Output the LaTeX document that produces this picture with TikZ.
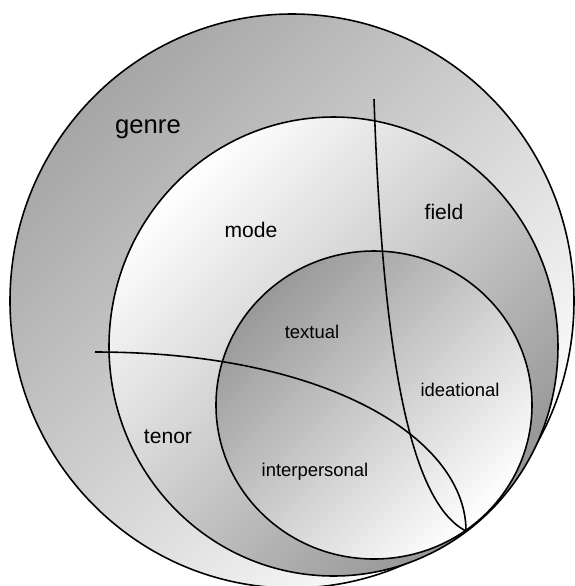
\documentclass[tikz,border=0pt]{standalone}
\usepackage{fontspec}
\setmainfont{Liberation Sans}
\usetikzlibrary{positioning}

\begin{document}
\begin{tikzpicture}[x=0.02cm, y=0.02cm, line width=0.9pt,
    darkring/.style={draw=black, top color=black!#1, bottom color=white, shading angle=45},
    lightring/.style={draw=black, top color=white, bottom color=black!42, shading angle=45},
    word/.style={anchor=base, inner sep=0pt}]
    \useasboundingbox (0,0) rectangle (575,-586);

    % Outer circle for genre
    \draw[darkring=35] (292,-301) ellipse [x radius=282, y radius=287];

    % Middle circle for the register variables
    \draw[lightring] (333.5,-346.5) ellipse [x radius=224.5, y radius=229.5];

    % Inner circle for the metafunctions
    \draw[darkring=40] (374,-405) ellipse [x radius=158, y radius=154];

    % Point where all circles touch
    \coordinate (touch) at (466,-531);
    \coordinate (fieldtop) at (374,-99);
    \coordinate (tenorleft) at (95,-352);

    % Curve between mode and field
    \draw (fieldtop) .. controls (382,-330) and (405,-500) .. (touch);

    % Curve between mode and tenor
    \draw (tenorleft) .. controls (330,-352) and (466,-440) .. (touch);

    % Labels
    \node[word, font=\fontsize{14.6}{17}\selectfont] (genre) at (148,-133) {genre};
    \node[word, font=\fontsize{12}{14}\selectfont] (mode) at (251,-237) {mode};
    \node[word, font=\fontsize{12}{14}\selectfont] (field) at (444,-219) {field};
    \node[word, font=\fontsize{12}{14}\selectfont] (tenor) at (168,-443) {tenor};
    \node[word, font=\fontsize{10.5}{12}\selectfont] (textual) at (312,-338) {textual};
    \node[word, font=\fontsize{10.5}{12}\selectfont] (ideational) at (460,-396) {ideational};
    \node[word, font=\fontsize{10.5}{12}\selectfont] (interpersonal) at (315,-476) {interpersonal};
\end{tikzpicture}
\end{document}
